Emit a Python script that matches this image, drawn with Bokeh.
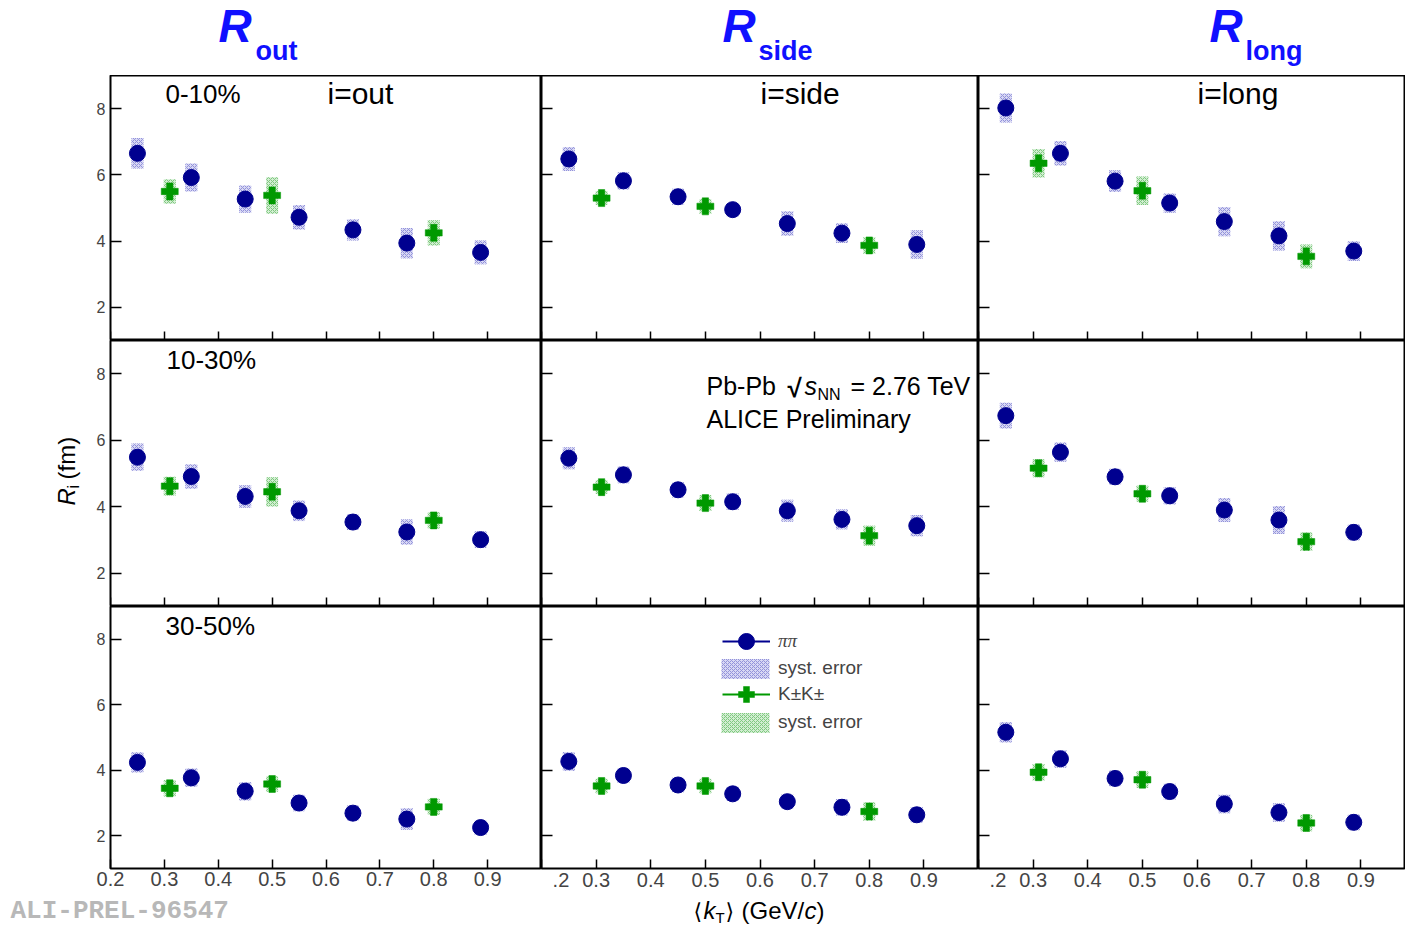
import math
import numpy as np
from bokeh.plotting import figure
from bokeh.layouts import gridplot, column, row
from bokeh.models import Range1d, LinearAxis, Legend, LegendItem, ColumnDataSource
from bokeh.core.properties import value
from bokeh.embed import file_html
from bokeh.resources import INLINE

# ---------------- data ----------------
kt_pion = [0.25, 0.35, 0.45, 0.55, 0.65, 0.75, 0.887]
kt_kaon = [0.31, 0.50, 0.80]
x_ticks = [0.2, 0.3, 0.4, 0.5, 0.6, 0.7, 0.8, 0.9]
y_ticks = [2, 4, 6, 8]
centralities = ["0-10%", "10-30%", "30-50%"]
directions = ["out", "side", "long"]

# pions (R in fm) and systematic errors
pi_out_0_10 = [6.65, 5.92, 5.27, 4.72, 4.34, 3.94, 3.66]
pi_out_0_10_sys = [0.46, 0.42, 0.41, 0.37, 0.32, 0.46, 0.36]
pi_side_0_10 = [6.48, 5.82, 5.34, 4.95, 4.53, 4.24, 3.90]
pi_side_0_10_sys = [0.36, 0.26, 0.24, 0.20, 0.37, 0.30, 0.43]
pi_long_0_10 = [8.02, 6.65, 5.81, 5.15, 4.59, 4.16, 3.70]
pi_long_0_10_sys = [0.44, 0.37, 0.33, 0.29, 0.44, 0.44, 0.30]

pi_out_10_30 = [5.49, 4.91, 4.31, 3.88, 3.54, 3.24, 3.01]
pi_out_10_30_sys = [0.41, 0.37, 0.34, 0.31, 0.24, 0.38, 0.25]
pi_side_10_30 = [5.46, 4.96, 4.51, 4.15, 3.88, 3.62, 3.43]
pi_side_10_30_sys = [0.33, 0.25, 0.23, 0.25, 0.33, 0.30, 0.32]
pi_long_10_30 = [6.74, 5.64, 4.90, 4.33, 3.90, 3.60, 3.23]
pi_long_10_30_sys = [0.39, 0.29, 0.24, 0.26, 0.36, 0.42, 0.24]

pi_out_30_50 = [4.24, 3.77, 3.36, 3.00, 2.69, 2.51, 2.25]
pi_out_30_50_sys = [0.31, 0.28, 0.28, 0.25, 0.23, 0.33, 0.22]
pi_side_30_50 = [4.27, 3.84, 3.55, 3.28, 3.04, 2.87, 2.64]
pi_side_30_50_sys = [0.29, 0.22, 0.22, 0.22, 0.22, 0.25, 0.24]
pi_long_30_50 = [5.16, 4.35, 3.75, 3.35, 2.97, 2.71, 2.41]
pi_long_30_50_sys = [0.31, 0.27, 0.24, 0.24, 0.28, 0.28, 0.24]

# kaons (R in fm) and systematic errors
k_out_0_10 = [5.50, 5.38, 4.25]
k_out_0_10_sys = [0.37, 0.55, 0.38]
k_side_0_10 = [5.30, 5.05, 3.87]
k_side_0_10_sys = [0.21, 0.22, 0.25]
k_long_0_10 = [6.35, 5.52, 3.54]
k_long_0_10_sys = [0.43, 0.43, 0.36]

k_out_10_30 = [4.62, 4.45, 3.59]
k_out_10_30_sys = [0.28, 0.44, 0.25]
k_side_10_30 = [4.59, 4.11, 3.13]
k_side_10_30_sys = [0.21, 0.24, 0.30]
k_long_10_30 = [5.16, 4.39, 2.95]
k_long_10_30_sys = [0.27, 0.24, 0.28]

k_out_30_50 = [3.45, 3.58, 2.88]
k_out_30_50_sys = [0.25, 0.24, 0.25]
k_side_30_50 = [3.52, 3.52, 2.74]
k_side_30_50_sys = [0.22, 0.22, 0.28]
k_long_30_50 = [3.94, 3.71, 2.39]
k_long_30_50_sys = [0.25, 0.25, 0.25]

pion_R = [[pi_out_0_10, pi_side_0_10, pi_long_0_10],
          [pi_out_10_30, pi_side_10_30, pi_long_10_30],
          [pi_out_30_50, pi_side_30_50, pi_long_30_50]]
pion_S = [[pi_out_0_10_sys, pi_side_0_10_sys, pi_long_0_10_sys],
          [pi_out_10_30_sys, pi_side_10_30_sys, pi_long_10_30_sys],
          [pi_out_30_50_sys, pi_side_30_50_sys, pi_long_30_50_sys]]
kaon_R = [[k_out_0_10, k_side_0_10, k_long_0_10],
          [k_out_10_30, k_side_10_30, k_long_10_30],
          [k_out_30_50, k_side_30_50, k_long_30_50]]
kaon_S = [[k_out_0_10_sys, k_side_0_10_sys, k_long_0_10_sys],
          [k_out_10_30_sys, k_side_10_30_sys, k_long_10_30_sys],
          [k_out_30_50_sys, k_side_30_50_sys, k_long_30_50_sys]]

# ---------------- style / geometry ----------------
PI_COLOR = "#00008f"
K_COLOR = "#009900"
PI_SYS_FILL, PI_SYS_HATCH = "#d8d8f4", "#9292da"
K_SYS_FILL, K_SYS_HATCH = "#d2eed2", "#80c880"
TITLE_BLUE = "#1010ff"
FONT = "Liberation Sans"

LEFT_W = 86          # strip holding the y-axis title
COL_LEFT = [110, 541, 978]
COL_W = [431, 437, 427]
PX_UNIT_X = [431 / 0.8, 437 / 0.8, 437 / 0.8]
X_END = [1.0, 1.0, 0.2 + 427 / (437 / 0.8)]
ROW_TOP = [75, 340, 606]
ROW_H = [265, 266, 262]
BOTTOM_AXIS = 27
HEADER_H = 75
FOOTER_TOP = 868 + BOTTOM_AXIS
FOOTER_H = 927 - FOOTER_TOP
STRIP_H = FOOTER_TOP - HEADER_H
Y0, Y1 = 1.0, 9.0
BASE_SHIFT = 0.37    # text anchor sits about this many font sizes above the baseline


def xd(c, px):
    return 0.2 + (px - COL_LEFT[c]) / PX_UNIT_X[c]


def yd(r, py):
    return Y0 + (ROW_TOP[r] + ROW_H[r] - py) * (Y1 - Y0) / ROW_H[r]


def panel_conv(r, c):
    return lambda px, py: (xd(c, px), yd(r, py))


header_conv = lambda px, py: (px, HEADER_H - py)
left_conv = lambda px, py: (px, FOOTER_TOP - py)
footer_conv = lambda px, py: (px, 927 - py)


def ptext(p, conv, px, py, s, fs, font=FONT, style="normal", color="black", angle=0.0):
    # px, py: page position of the start of the text on its baseline
    if angle == 0.0:
        py = py - BASE_SHIFT * fs
    else:
        px = px - BASE_SHIFT * fs
    x, y = conv(px, py)
    p.text(x=[x], y=[y], text=[s], text_font=value(font), text_font_size=value(f"{fs}px"),
           text_font_style=value(style), text_color=color, text_align=value("left"),
           text_baseline=value("alphabetic"), angle=angle)


def text_fig(w, h):
    p = figure(frame_width=w, frame_height=h, x_range=Range1d(0, w), y_range=Range1d(0, h),
               output_backend="svg", toolbar_location=None,
               x_axis_location=None, y_axis_location=None, min_border=0)
    p.outline_line_color = None
    p.grid.visible = False
    p.background_fill_color = "white"
    p.border_fill_color = "white"
    return p


figs = [[None] * 3 for _ in range(3)]
renderers = {}
for r in range(3):
    for c in range(3):
        p = figure(frame_width=COL_W[c], frame_height=ROW_H[r],
                   x_range=Range1d(0.2, X_END[c]), y_range=Range1d(Y0, Y1),
                   output_backend="svg", toolbar_location=None,
                   x_axis_location=None, y_axis_location=None,
                   min_border=0,
                   min_border_left=(110 - LEFT_W) if c == 0 else 0,
                   min_border_right=0, min_border_top=0,
                   min_border_bottom=BOTTOM_AXIS if r == 2 else 0)
        p.grid.visible = False
        p.outline_line_color = "black"
        p.outline_line_width = 2
        p.background_fill_color = "white"
        p.border_fill_color = "white"

        yax = LinearAxis(ticker=y_ticks, major_tick_in=11, major_tick_out=0,
                         major_tick_line_width=1.5, major_tick_line_color="black",
                         minor_tick_line_color=None, axis_line_color=None,
                         major_label_text_font=FONT, major_label_text_font_size="16px",
                         major_label_standoff=5)
        if c != 0:
            yax.fixed_location = 0.2
            yax.major_label_text_color = None
        p.add_layout(yax, "left")

        xax = LinearAxis(ticker=x_ticks, major_tick_in=9, major_tick_out=0,
                         major_tick_line_width=1.5, major_tick_line_color="black",
                         minor_tick_line_color=None, axis_line_color=None,
                         major_label_text_font=FONT, major_label_text_font_size="20px",
                         major_label_standoff=3 if c == 0 else 0)
        if r != 2:
            xax.fixed_location = Y0
            xax.major_label_text_color = None
        elif c != 0:
            xax.major_label_overrides = {0.2: "\u2007.2"}
        p.add_layout(xax, "below")

        src_pi = ColumnDataSource(dict(x=kt_pion, y=pion_R[r][c],
                                       h=[2 * s for s in pion_S[r][c]]))
        src_k = ColumnDataSource(dict(x=kt_kaon, y=kaon_R[r][c],
                                      h=[2 * s for s in kaon_S[r][c]]))
        box_pi = p.rect(x="x", y="y", width=12, width_units="screen", height="h", source=src_pi,
                        fill_color=PI_SYS_FILL, line_color=None,
                        hatch_pattern="x", hatch_color=PI_SYS_HATCH, hatch_scale=4, hatch_weight=1)
        box_k = p.rect(x="x", y="y", width=12, width_units="screen", height="h", source=src_k,
                       fill_color=K_SYS_FILL, line_color=None,
                       hatch_pattern="x", hatch_color=K_SYS_HATCH, hatch_scale=4, hatch_weight=1)
        dot_pi = p.scatter(x="x", y="y", source=src_pi, marker="circle", size=16,
                           fill_color=PI_COLOR, line_color=PI_COLOR)
        dot_k = p.scatter(x="x", y="y", source=src_k, marker="plus", size=17,
                          fill_color=K_COLOR, line_color=K_COLOR, line_width=0.5)
        renderers[(r, c)] = (box_pi, box_k, dot_pi, dot_k)
        figs[r][c] = p

# ---------------- panel texts ----------------
ptext(figs[0][0], panel_conv(0, 0), 165, 103, centralities[0], 26)
ptext(figs[1][0], panel_conv(1, 0), 166, 369, centralities[1], 26)
ptext(figs[2][0], panel_conv(2, 0), 165, 635, centralities[2], 26)
ptext(figs[0][0], panel_conv(0, 0), 327, 104, "i=out", 30)
ptext(figs[0][1], panel_conv(0, 1), 760, 104, "i=side", 30)
ptext(figs[0][2], panel_conv(0, 2), 1197, 104, "i=long", 30)

pm, cm = figs[1][1], panel_conv(1, 1)
ptext(pm, cm, 706, 395, "Pb-Pb", 25)
ptext(pm, cm, 787, 397, "\u221a", 26, style="bold")
ptext(pm, cm, 804, 395, "s", 25, style="italic")
ptext(pm, cm, 817, 400, "NN", 16)
ptext(pm, cm, 850, 395, "= 2.76 TeV", 25)
ptext(pm, cm, 706, 428, "ALICE Preliminary", 25)

# ---------------- legend (bottom middle panel) ----------------
pl = figs[2][1]
box_pi, box_k, dot_pi, dot_k = renderers[(2, 1)]
line_pi = pl.line(x="x", y="y", source=ColumnDataSource(dict(x=np.array([np.nan]), y=np.array([np.nan]))),
                  line_color=PI_COLOR, line_width=2)
line_k = pl.line(x="x", y="y", source=ColumnDataSource(dict(x=np.array([np.nan]), y=np.array([np.nan]))),
                 line_color=K_COLOR, line_width=2)

legend_specs = [
    ("\u03c0\u03c0", [line_pi, dot_pi], 181, 207, 48, 40, 8, "Liberation Serif", "italic"),
    ("syst. error", [box_pi], 174, 187.5, 60, 25, 3, FONT, "normal"),
    ("K\u00b1K\u00b1", [line_k, dot_k], 181, 154, 48, 40, 8, FONT, "normal"),
    ("syst. error", [box_k], 174, 133.5, 60, 25, 3, FONT, "normal"),
]
for label, rends, vx, vy, gw, gh, st, font, style in legend_specs:
    leg = Legend(items=[LegendItem(label=label, renderers=rends)], location=(vx, vy),
                 padding=0, margin=0, spacing=0, border_line_color=None,
                 background_fill_alpha=0, glyph_width=gw, glyph_height=gh,
                 label_standoff=st, label_text_font=font, label_text_font_style=style,
                 label_text_font_size="19px", label_height=20)
    pl.add_layout(leg)

# ---------------- header with column titles ----------------
header = text_fig(1405, HEADER_H)
title_sub = ["out", "side", "long"]
r_px = [218, 722, 1209]
sub_px = [255, 758, 1245]
for c in range(3):
    ptext(header, header_conv, r_px[c], 43, "R", 46, style="bold italic", color=TITLE_BLUE)
    ptext(header, header_conv, sub_px[c], 60, title_sub[c], 27, style="bold", color=TITLE_BLUE)

# ---------------- left strip with y-axis title ----------------
left = text_fig(LEFT_W, STRIP_H)
ptext(left, left_conv, 75, 505, "R", 24, style="italic", angle=math.pi / 2)
ptext(left, left_conv, 79, 488, "i", 16, angle=math.pi / 2)
ptext(left, left_conv, 75, 479, "(fm)", 24, angle=math.pi / 2)

# ---------------- footer with x-axis title and watermark ----------------
footer = text_fig(1405, FOOTER_H)
ptext(footer, footer_conv, 693, 919, "\u27e8", 22, font="DejaVu Sans")
ptext(footer, footer_conv, 703, 919, "k", 24, style="italic")
ptext(footer, footer_conv, 715, 923, "T", 15)
ptext(footer, footer_conv, 725, 919, "\u27e9", 22, font="DejaVu Sans")
ptext(footer, footer_conv, 741, 919, "(GeV/", 24)
ptext(footer, footer_conv, 804, 919, "c", 24, style="italic")
ptext(footer, footer_conv, 816, 919, ")", 24)
ptext(footer, footer_conv, 10, 920.6, "ALI-PREL-96547", 26, font="Liberation Mono",
      style="bold", color="#b8b8b8")

grid = gridplot(figs, toolbar_location=None)
page = column(header, row(left, grid), footer)

open("out.html", "w").write(file_html(page, INLINE))
